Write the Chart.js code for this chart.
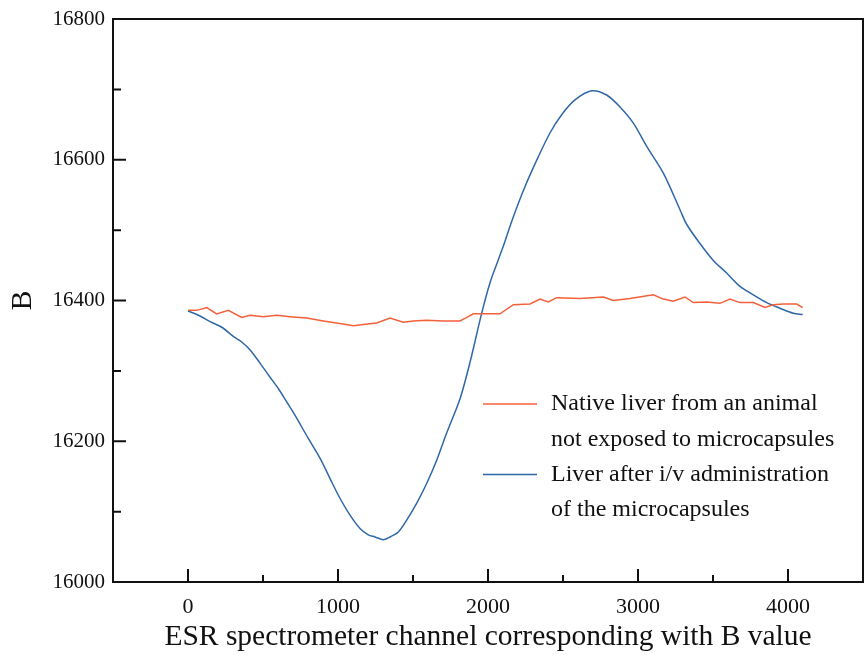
<!DOCTYPE html>
<html>
<head>
<meta charset="utf-8">
<script src="https://cdn.jsdelivr.net/npm/chart.js@4"></script>
<style>
  html, body { margin: 0; padding: 0; background: #fff; }
  #wrap { width: 867px; height: 655px; }
</style>
</head>
<body>
<div id="wrap"><canvas id="esr" width="867" height="655"></canvas></div>
<script>
// ESR spectrum, liver samples
const xTicks = [0, 1000, 2000, 3000, 4000];
const xMinor = [500, 1500, 2500, 3500];
const yTicks = [16000, 16200, 16400, 16600, 16800];
const yMinor = [16100, 16300, 16500, 16700];

const nativeLabel = ['Native liver from an animal', 'not exposed to microcapsules'];
const nativeX = [0, 58, 125, 191, 269, 358, 413, 502, 591, 680, 791, 902, 991, 1102, 1169, 1258, 1347, 1435, 1502, 1591, 1702, 1813, 1850, 1902, 2080, 2169, 2280, 2347, 2402, 2458, 2613, 2769, 2835, 2947, 3102, 3169, 3235, 3313, 3369, 3458, 3547, 3613, 3680, 3769, 3847, 3902, 3969, 4058, 4098];
const nativeY = [16386, 16386, 16390, 16381, 16386, 16376, 16379, 16377, 16379, 16377, 16375, 16371, 16368, 16364, 16366, 16368, 16375, 16369, 16371, 16372, 16371, 16371, 16375, 16381, 16381, 16394, 16395, 16402, 16398, 16404, 16403, 16405, 16400, 16403, 16408, 16402, 16399, 16405, 16397, 16398, 16396, 16402, 16397, 16397, 16390, 16394, 16395, 16395, 16390];

const liverLabel = ['Liver after i/v administration', 'of the microcapsules'];
const liverX = [0, 80, 147, 225, 302, 358, 413, 480, 547, 602, 658, 713, 802, 880, 947, 1013, 1080, 1147, 1202, 1247, 1302, 1347, 1402, 1458, 1525, 1591, 1658, 1725, 1813, 1880, 1958, 2013, 2069, 2113, 2169, 2247, 2335, 2413, 2491, 2580, 2691, 2791, 2880, 2969, 3058, 3169, 3280, 3325, 3413, 3502, 3591, 3680, 3769, 3858, 3947, 4035, 4098];
const liverY = [16385, 16378, 16370, 16362, 16349, 16341, 16330, 16311, 16291, 16275, 16256, 16237, 16204, 16176, 16147, 16119, 16095, 16076, 16067, 16064, 16060, 16064, 16071, 16088, 16112, 16140, 16173, 16212, 16260, 16312, 16382, 16425, 16458, 16484, 16519, 16562, 16604, 16638, 16664, 16685, 16698, 16692, 16675, 16652, 16619, 16581, 16529, 16508, 16481, 16457, 16439, 16420, 16408, 16397, 16389, 16382, 16380];

const COLORS = { native: '#f4603a', liver: '#2f68a8', axis: '#111111', text: '#111111' };
const FONT = "'Liberation Serif', 'Times New Roman', serif";

const toPoints = (xs, ys) => xs.map((x, i) => ({ x, y: ys[i] }));

// box frame + inward ticks + legend, drawn after the datasets
const frameTicks = {
  id: 'frameTicks',
  afterDraw(chart) {
    const { ctx, chartArea: a, scales: { x, y } } = chart;
    ctx.save();
    ctx.strokeStyle = COLORS.axis;
    ctx.lineWidth = 2;
    ctx.strokeRect(a.left, a.top, a.right - a.left, a.bottom - a.top);
    ctx.beginPath();
    xTicks.forEach(v => { const p = x.getPixelForValue(v); ctx.moveTo(p, a.bottom); ctx.lineTo(p, a.bottom - 13); });
    xMinor.forEach(v => { const p = x.getPixelForValue(v); ctx.moveTo(p, a.bottom); ctx.lineTo(p, a.bottom - 7); });
    yTicks.forEach(v => { const p = y.getPixelForValue(v); ctx.moveTo(a.left, p); ctx.lineTo(a.left + 13, p); });
    yMinor.forEach(v => { const p = y.getPixelForValue(v); ctx.moveTo(a.left, p); ctx.lineTo(a.left + 8, p); });
    ctx.stroke();

    // legend
    const lx = a.left + 370, ly = a.top + 385, rowH = 35.3;
    ctx.font = '24px ' + FONT;
    ctx.fillStyle = COLORS.text;
    ctx.textBaseline = 'middle';
    let row = 0;
    chart.data.datasets.forEach(ds => {
      const yy = ly + row * rowH;
      ctx.strokeStyle = ds.borderColor;
      ctx.lineWidth = 1.5;
      ctx.beginPath();
      ctx.moveTo(lx, yy);
      ctx.lineTo(lx + 54, yy);
      ctx.stroke();
      ds.legendLines.forEach((t, i) => ctx.fillText(t, lx + 68, ly + (row + i) * rowH));
      row += ds.legendLines.length;
    });
    ctx.restore();
  }
};

new Chart(document.getElementById('esr'), {
  type: 'line',
  data: {
    datasets: [
      { label: nativeLabel.join(' '), legendLines: nativeLabel, data: toPoints(nativeX, nativeY), borderColor: COLORS.native, borderWidth: 1.5, pointRadius: 0, tension: 0, fill: false },
      { label: liverLabel.join(' '), legendLines: liverLabel, data: toPoints(liverX, liverY), borderColor: COLORS.liver, borderWidth: 1.5, pointRadius: 0, tension: 0.3, fill: false }
    ]
  },
  options: {
    responsive: false,
    animation: false,
    layout: { padding: { top: 19, right: 4, left: 0, bottom: 0 } },
    plugins: { legend: { display: false }, tooltip: { enabled: false } },
    scales: {
      x: {
        type: 'linear', min: -500, max: 4500,
        afterBuildTicks: s => { s.ticks = xTicks.map(v => ({ value: v })); },
        afterFit: s => { s.height = 73; },
        grid: { display: false }, border: { display: false },
        ticks: { color: COLORS.text, font: { family: FONT, size: 22 }, padding: 4, maxRotation: 0, callback: v => String(v) },
        title: { display: true, text: 'ESR spectrometer channel corresponding with B value', color: COLORS.text, font: { family: FONT, size: 29.5 }, padding: { top: 0, bottom: 0 } }
      },
      y: {
        type: 'linear', min: 16000, max: 16800,
        afterBuildTicks: s => { s.ticks = yTicks.map(v => ({ value: v })); },
        afterFit: s => { s.width = 113; },
        grid: { display: false }, border: { display: false },
        ticks: { color: COLORS.text, font: { family: FONT, size: 21 }, padding: 0, callback: v => String(v) },
        title: { display: true, text: 'B', color: COLORS.text, font: { family: FONT, size: 29.5 }, padding: { top: 6, bottom: 0 } }
      }
    }
  },
  plugins: [frameTicks]
});
</script>
</body>
</html>
